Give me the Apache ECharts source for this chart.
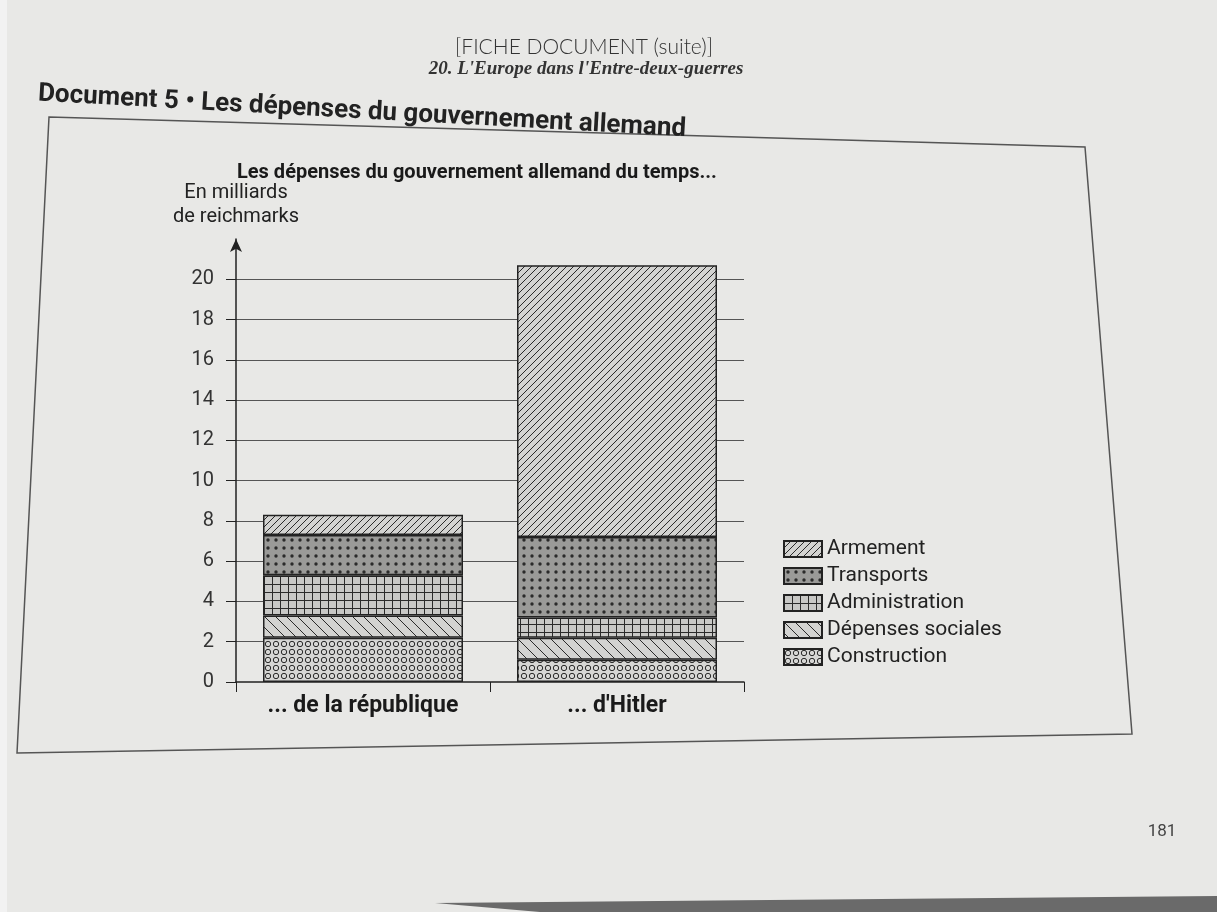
<!DOCTYPE html>
<html>
<head>
<meta charset="utf-8">
<title>Les dépenses du gouvernement allemand</title>
<script src="https://cdn.jsdelivr.net/npm/echarts@6/dist/echarts.min.js"></script>
<style>
  html, body { margin: 0; padding: 0; background: #e8e8e6; }
  #main { width: 1217px; height: 912px; }
</style>
</head>
<body>
<div id="main"></div>
<script>
// données (milliards de reichsmarks)
const categories = ['... de la république', "... d'Hitler"];
const construction = [2.2, 1.1];
const sociales = [1.1, 1.1];
const administration = [2.0, 1.0];
const transports = [2.0, 4.0];
const armement = [1.0, 13.5];
const legendOrder = ['Armement', 'Transports', 'Administration', 'Dépenses sociales', 'Construction'];

// petit outil pour fabriquer les motifs de remplissage
function makePattern(w, h, bg, draw) {
  const c = document.createElement('canvas');
  c.width = w;
  c.height = h;
  const ctx = c.getContext('2d');
  ctx.fillStyle = bg;
  ctx.fillRect(0, 0, w, h);
  ctx.strokeStyle = '#2a2a2a';
  ctx.fillStyle = '#2a2a2a';
  ctx.lineWidth = 1;
  draw(ctx, w, h);
  return { image: c, repeat: 'repeat' };
}

// hachures /
const patArmement = makePattern(7, 7, '#d3d3d1', function (ctx, w, h) {
  ctx.beginPath();
  ctx.moveTo(0, h); ctx.lineTo(w, 0);
  ctx.moveTo(-1, 1); ctx.lineTo(1, -1);
  ctx.moveTo(w - 1, h + 1); ctx.lineTo(w + 1, h - 1);
  ctx.stroke();
});
// points noirs sur gris
const patTransports = makePattern(8, 8, '#9a9a98', function (ctx) {
  ctx.beginPath();
  ctx.arc(4, 4, 1.7, 0, Math.PI * 2);
  ctx.fill();
});
// quadrillage
const patAdministration = makePattern(8, 8, '#c8c8c6', function (ctx, w, h) {
  ctx.beginPath();
  ctx.moveTo(0.5, 0); ctx.lineTo(0.5, h);
  ctx.moveTo(0, 0.5); ctx.lineTo(w, 0.5);
  ctx.stroke();
});
// hachures \
const patSociales = makePattern(11, 11, '#d3d3d1', function (ctx, w, h) {
  ctx.beginPath();
  ctx.moveTo(0, 0); ctx.lineTo(w, h);
  ctx.moveTo(w - 1, -1); ctx.lineTo(w + 1, 1);
  ctx.moveTo(-1, h - 1); ctx.lineTo(1, h + 1);
  ctx.stroke();
});
// petits cercles
const patConstruction = makePattern(8, 8, '#d6d6d4', function (ctx) {
  ctx.beginPath();
  ctx.arc(4, 4, 2.7, 0, Math.PI * 2);
  ctx.stroke();
});

const myChart = echarts.init(document.getElementById('main'));

function barSerie(name, data, pattern) {
  return {
    name: name,
    type: 'bar',
    stack: 'total',
    barWidth: 200,
    data: data,
    itemStyle: {
      color: pattern,
      borderColor: '#222',
      borderWidth: 1.5,
    },
  };
}

const option = {
  backgroundColor: '#e8e8e6',
  animation: false,
  textStyle: { fontFamily: 'Roboto, sans-serif' },
  title: {
    text: 'Les dépenses du gouvernement allemand du temps...',
    left: 232,
    top: 158,
    textStyle: { fontSize: 20, fontWeight: 'bold', color: '#1a1a1a' },
  },
  grid: {
    left: 236,
    right: 473,
    top: 239,
    bottom: 230,
  },
  legend: {
    orient: 'vertical',
    left: 778,
    top: 533,
    itemWidth: 38,
    itemHeight: 16,
    itemGap: 5,
    icon: 'rect',
    data: legendOrder,
    textStyle: { fontSize: 21, lineHeight: 22, color: '#222' },
  },
  xAxis: {
    type: 'category',
    data: categories,
    axisLine: { lineStyle: { color: '#222', width: 1.5 } },
    axisTick: { show: true, length: 10, lineStyle: { color: '#222' } },
    axisLabel: {
      fontSize: 23,
      fontWeight: 'bold',
      color: '#1a1a1a',
      margin: 13,
    },
  },
  yAxis: {
    type: 'value',
    min: 0,
    max: 22,
    interval: 2,
    name: 'En milliards\nde reichmarks',
    nameLocation: 'end',
    nameGap: 10,
    nameTextStyle: {
      fontSize: 20,
      color: '#222',
      align: 'center',
      verticalAlign: 'bottom',
      lineHeight: 24,
    },
    axisLine: {
      show: true,
      symbol: ['none', 'arrow'],
      symbolSize: [9, 13],
      lineStyle: { color: '#222', width: 1.5 },
    },
    axisTick: { show: true, length: 10, lineStyle: { color: '#222' } },
    axisLabel: {
      fontSize: 20,
      color: '#333',
      margin: 22,
      showMaxLabel: false,
    },
    splitLine: {
      show: true,
      showMinLine: false,
      showMaxLine: false,
      lineStyle: { color: '#555', width: 1 },
    },
  },
  series: [
    barSerie('Construction', construction, patConstruction),
    barSerie('Dépenses sociales', sociales, patSociales),
    barSerie('Administration', administration, patAdministration),
    barSerie('Transports', transports, patTransports),
    barSerie('Armement', armement, patArmement),
  ],
  graphic: [
    // bande claire à gauche de la photo
    { type: 'rect', shape: { x: 0, y: 0, width: 7, height: 912 }, style: { fill: '#f2f2f2' }, silent: true },
    // cadre du document
    {
      type: 'polygon',
      shape: { points: [[49, 117], [1085, 147], [1132, 734], [17, 753]] },
      style: { fill: 'none', stroke: '#555', lineWidth: 1.5 },
      silent: true,
    },
    {
      type: 'text',
      x: 584, y: 47,
      style: { text: '[FICHE DOCUMENT (suite)]', font: '300 21px Lato, sans-serif', fill: '#333', align: 'center', verticalAlign: 'middle' },
    },
    {
      type: 'text',
      x: 586, y: 69,
      style: { text: "20. L'Europe dans l'Entre-deux-guerres", font: 'italic bold 19px "Liberation Serif", serif', fill: '#333', align: 'center', verticalAlign: 'middle' },
    },
    {
      type: 'text',
      x: 38, y: 94,
      rotation: -0.055,
      style: { text: 'Document 5 • Les dépenses du gouvernement allemand', font: 'bold 26px Roboto, sans-serif', fill: '#222', align: 'left', verticalAlign: 'middle' },
    },
    {
      type: 'text',
      x: 1162, y: 832,
      style: { text: '181', font: '17px Roboto, sans-serif', fill: '#444', align: 'center', verticalAlign: 'middle' },
    },
    // ombre en bas de la photo
    {
      type: 'polygon',
      shape: { points: [[435, 903], [1217, 896], [1217, 912], [540, 912]] },
      style: { fill: '#6a6a6a' },
      silent: true,
    },
  ],
};

myChart.setOption(option);
window.addEventListener('resize', function () {
  myChart && myChart.resize();
});
</script>
</body>
</html>
